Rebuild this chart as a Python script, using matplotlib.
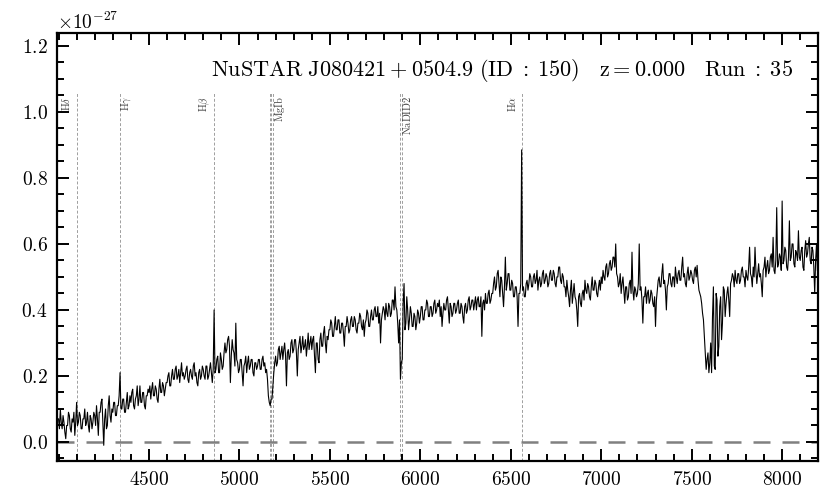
import numpy as np
import matplotlib
matplotlib.use("Agg")
import matplotlib.pyplot as plt

plt.rcParams.update({
    "font.family": "serif",
    "font.serif": ["cmr10", "DejaVu Serif"],
    "mathtext.fontset": "cm",
    "axes.formatter.use_mathtext": True,
    "font.size": 14,
    "axes.unicode_minus": True,
})

SCALE = 1e-27

# wavelength sampling (Angstrom): first sample and step
wave_start, wave_step = 4000, 5

# flux in units of 1e-27, one row per 100 A (20 samples each)
flux_rows = [
    [0.07, 0.04, 0.10, 0.06, 0.04, 0.08, 0.06, 0.03, 0.01, 0.05, 0.05, 0.09, 0.08, 0.04, 0.03, 0.07, 0.06, 0.09, 0.02, 0.06],  # 4000
    [0.12, 0.05, 0.06, 0.09, 0.08, 0.04, 0.04, 0.07, 0.07, 0.10, 0.05, 0.06, 0.09, 0.05, 0.03, 0.08, 0.07, 0.04, 0.06, 0.09],  # 4100
    [0.08, 0.05, 0.11, 0.07, 0.02, 0.09, 0.09, 0.12, 0.13, 0.06, -0.01, 0.07, 0.10, 0.04, 0.05, 0.11, 0.14, 0.08, 0.06, 0.10],  # 4200
    [0.09, 0.12, 0.12, 0.08, 0.08, 0.11, 0.11, 0.14, 0.21, 0.10, 0.10, 0.13, 0.13, 0.09, 0.09, 0.12, 0.15, 0.10, 0.11, 0.14],  # 4300
    [0.12, 0.15, 0.16, 0.11, 0.10, 0.13, 0.14, 0.17, 0.11, 0.13, 0.17, 0.12, 0.12, 0.15, 0.15, 0.11, 0.10, 0.14, 0.14, 0.16],  # 4400
    [0.15, 0.17, 0.13, 0.16, 0.18, 0.14, 0.14, 0.17, 0.16, 0.13, 0.12, 0.16, 0.19, 0.15, 0.15, 0.18, 0.17, 0.14, 0.16, 0.18],  # 4500
    [0.18, 0.20, 0.21, 0.17, 0.17, 0.20, 0.22, 0.19, 0.19, 0.22, 0.23, 0.19, 0.20, 0.22, 0.18, 0.21, 0.24, 0.20, 0.21, 0.19],  # 4600
    [0.20, 0.22, 0.23, 0.19, 0.18, 0.21, 0.22, 0.20, 0.19, 0.23, 0.24, 0.20, 0.21, 0.18, 0.17, 0.21, 0.22, 0.19, 0.20, 0.23],  # 4700
    [0.22, 0.20, 0.19, 0.23, 0.23, 0.19, 0.20, 0.22, 0.24, 0.21, 0.18, 0.22, 0.40, 0.21, 0.22, 0.25, 0.26, 0.21, 0.21, 0.27],  # 4800
    [0.25, 0.22, 0.23, 0.27, 0.30, 0.27, 0.28, 0.31, 0.32, 0.29, 0.18, 0.26, 0.31, 0.28, 0.27, 0.23, 0.36, 0.25, 0.24, 0.21],  # 4900
    [0.22, 0.25, 0.25, 0.21, 0.17, 0.23, 0.24, 0.26, 0.21, 0.24, 0.26, 0.22, 0.23, 0.25, 0.25, 0.21, 0.20, 0.24, 0.24, 0.22],  # 5000
    [0.23, 0.25, 0.25, 0.22, 0.22, 0.25, 0.26, 0.23, 0.24, 0.21, 0.22, 0.19, 0.14, 0.12, 0.11, 0.13, 0.13, 0.17, 0.21, 0.24],  # 5100
    [0.26, 0.23, 0.24, 0.28, 0.29, 0.25, 0.27, 0.29, 0.25, 0.28, 0.30, 0.26, 0.17, 0.27, 0.28, 0.25, 0.26, 0.30, 0.31, 0.27],  # 5200
    [0.28, 0.31, 0.31, 0.27, 0.20, 0.28, 0.30, 0.32, 0.27, 0.29, 0.32, 0.28, 0.29, 0.31, 0.26, 0.29, 0.33, 0.28, 0.30, 0.32],  # 5300
    [0.28, 0.31, 0.32, 0.26, 0.21, 0.30, 0.30, 0.25, 0.24, 0.31, 0.33, 0.29, 0.29, 0.33, 0.35, 0.30, 0.27, 0.32, 0.31, 0.34],  # 5400
    [0.34, 0.37, 0.36, 0.32, 0.32, 0.35, 0.38, 0.34, 0.34, 0.37, 0.37, 0.33, 0.33, 0.36, 0.36, 0.33, 0.29, 0.35, 0.35, 0.38],  # 5500
    [0.36, 0.33, 0.34, 0.37, 0.38, 0.35, 0.35, 0.38, 0.37, 0.34, 0.33, 0.36, 0.36, 0.39, 0.38, 0.35, 0.34, 0.37, 0.32, 0.36],  # 5600
    [0.37, 0.40, 0.39, 0.35, 0.35, 0.38, 0.40, 0.37, 0.37, 0.40, 0.41, 0.38, 0.38, 0.41, 0.36, 0.39, 0.30, 0.37, 0.39, 0.41],  # 5700
    [0.40, 0.37, 0.42, 0.39, 0.38, 0.42, 0.41, 0.38, 0.39, 0.43, 0.43, 0.40, 0.47, 0.41, 0.40, 0.36, 0.30, 0.37, 0.19, 0.24],  # 5800
    [0.25, 0.42, 0.48, 0.34, 0.36, 0.44, 0.40, 0.34, 0.37, 0.41, 0.39, 0.35, 0.35, 0.39, 0.38, 0.34, 0.36, 0.40, 0.39, 0.36],  # 5900
    [0.38, 0.41, 0.41, 0.37, 0.37, 0.40, 0.40, 0.43, 0.42, 0.38, 0.38, 0.41, 0.41, 0.38, 0.39, 0.42, 0.43, 0.39, 0.40, 0.42],  # 6000
    [0.41, 0.43, 0.38, 0.41, 0.35, 0.39, 0.42, 0.40, 0.40, 0.43, 0.44, 0.40, 0.36, 0.42, 0.41, 0.38, 0.39, 0.42, 0.42, 0.39],  # 6100
    [0.40, 0.42, 0.43, 0.39, 0.39, 0.42, 0.41, 0.38, 0.36, 0.41, 0.42, 0.39, 0.40, 0.43, 0.44, 0.40, 0.41, 0.43, 0.43, 0.40],  # 6200
    [0.42, 0.44, 0.40, 0.43, 0.44, 0.41, 0.41, 0.44, 0.32, 0.42, 0.43, 0.40, 0.45, 0.42, 0.42, 0.45, 0.46, 0.42, 0.43, 0.45],  # 6300
    [0.45, 0.48, 0.50, 0.46, 0.47, 0.51, 0.52, 0.48, 0.44, 0.50, 0.49, 0.45, 0.41, 0.47, 0.56, 0.46, 0.48, 0.51, 0.51, 0.46],  # 6400
    [0.46, 0.49, 0.48, 0.44, 0.44, 0.47, 0.47, 0.44, 0.35, 0.45, 0.45, 0.48, 0.885, 0.46, 0.47, 0.44, 0.44, 0.48, 0.49, 0.46],  # 6500
    [0.48, 0.51, 0.50, 0.47, 0.47, 0.50, 0.51, 0.48, 0.49, 0.52, 0.46, 0.49, 0.50, 0.47, 0.48, 0.51, 0.52, 0.48, 0.49, 0.51],  # 6600
    [0.50, 0.47, 0.48, 0.51, 0.52, 0.49, 0.49, 0.52, 0.51, 0.48, 0.47, 0.50, 0.50, 0.53, 0.53, 0.49, 0.48, 0.51, 0.50, 0.47],  # 6700
    [0.47, 0.44, 0.49, 0.46, 0.44, 0.41, 0.46, 0.49, 0.42, 0.45, 0.48, 0.44, 0.43, 0.40, 0.35, 0.44, 0.45, 0.42, 0.41, 0.45],  # 6800
    [0.46, 0.43, 0.49, 0.46, 0.45, 0.48, 0.47, 0.44, 0.43, 0.47, 0.50, 0.46, 0.46, 0.49, 0.48, 0.45, 0.44, 0.47, 0.49, 0.46],  # 6900
    [0.50, 0.48, 0.52, 0.50, 0.49, 0.53, 0.54, 0.50, 0.51, 0.54, 0.55, 0.52, 0.53, 0.56, 0.56, 0.53, 0.60, 0.51, 0.50, 0.47],  # 7000
    [0.48, 0.51, 0.45, 0.48, 0.50, 0.46, 0.42, 0.47, 0.47, 0.43, 0.44, 0.48, 0.49, 0.45, 0.575, 0.46, 0.43, 0.47, 0.46, 0.44],  # 7100
    [0.45, 0.48, 0.60, 0.46, 0.47, 0.43, 0.36, 0.44, 0.44, 0.47, 0.42, 0.45, 0.46, 0.42, 0.43, 0.46, 0.45, 0.42, 0.41, 0.44],  # 7200
    [0.35, 0.43, 0.46, 0.49, 0.50, 0.47, 0.47, 0.51, 0.54, 0.48, 0.49, 0.46, 0.40, 0.47, 0.48, 0.51, 0.51, 0.48, 0.47, 0.50],  # 7300
    [0.50, 0.47, 0.53, 0.50, 0.48, 0.51, 0.52, 0.49, 0.49, 0.53, 0.56, 0.50, 0.51, 0.48, 0.47, 0.51, 0.53, 0.49, 0.50, 0.52],  # 7400
    [0.51, 0.49, 0.48, 0.52, 0.53, 0.50, 0.535, 0.49, 0.46, 0.45, 0.44, 0.42, 0.39, 0.37, 0.32, 0.27, 0.22, 0.25, 0.27, 0.21],  # 7500
    [0.24, 0.30, 0.21, 0.38, 0.47, 0.23, 0.22, 0.45, 0.43, 0.26, 0.29, 0.41, 0.44, 0.31, 0.36, 0.47, 0.46, 0.38, 0.42, 0.45],  # 7600
    [0.47, 0.43, 0.38, 0.48, 0.49, 0.51, 0.50, 0.47, 0.52, 0.49, 0.48, 0.51, 0.51, 0.48, 0.49, 0.52, 0.53, 0.50, 0.50, 0.47],  # 7700
    [0.52, 0.50, 0.49, 0.53, 0.59, 0.51, 0.50, 0.47, 0.53, 0.50, 0.59, 0.52, 0.48, 0.51, 0.54, 0.50, 0.51, 0.48, 0.44, 0.52],  # 7800
    [0.53, 0.56, 0.50, 0.53, 0.55, 0.51, 0.52, 0.56, 0.57, 0.53, 0.62, 0.52, 0.51, 0.55, 0.71, 0.53, 0.54, 0.57, 0.56, 0.52],  # 7900
    [0.73, 0.54, 0.55, 0.59, 0.58, 0.53, 0.52, 0.56, 0.67, 0.55, 0.56, 0.60, 0.60, 0.54, 0.53, 0.58, 0.57, 0.55, 0.64, 0.56],  # 8000
    [0.55, 0.58, 0.59, 0.53, 0.52, 0.58, 0.61, 0.56, 0.57, 0.60, 0.62, 0.55, 0.54, 0.59, 0.58, 0.53, 0.45, 0.55, 0.60, 0.52],  # 8100
]

line_names = [r"$\rm H\delta$", r"$\rm H\gamma$", r"$\rm H\beta$", r"$\rm MgIb$",
              r"$\rm NaDID2$", r"$\rm H\alpha$"]
line_waves = [[4102], [4341], [4861], [5167, 5173, 5184], [5890, 5896], [6563]]
label_waves = [4041, 4372, 4808, 5222, 5926, 6504]

title = r"$\rm NuSTAR\ J080421+0504.9\ (ID\;:\;150)\quad z=0.000\quad Run\;:\;35$"

xticks = [4500, 5000, 5500, 6000, 6500, 7000, 7500, 8000]
yticks = [0.0, 0.2, 0.4, 0.6, 0.8, 1.0, 1.2]

flux = np.concatenate([np.array(r, dtype=float) for r in flux_rows]) * SCALE
wave = wave_start + wave_step * np.arange(flux.size)

fig = plt.figure(figsize=(8.3, 4.98), dpi=100)
ax = fig.add_axes([0.0692, 0.0743, 0.9163, 0.8594])

ymin, ymax = -0.0576, 1.239
ax.set_xlim(3994, 8198)
ax.set_ylim(ymin * SCALE, ymax * SCALE)

# line markers
for name, ws, lw_ in zip(line_names, line_waves, label_waves):
    for w in ws:
        ax.vlines(w, ymin * SCALE, 1.06 * SCALE, colors="0.62", linestyles=(0, (3, 2)),
                  linewidth=0.7, zorder=1)
    ax.text(lw_, 1.048 * SCALE, name, rotation=90, ha="center", va="top",
            fontsize=7.5, color="0.25")

# zero line
ax.axhline(0, color="0.5", lw=1.8, linestyle=(0, (6.8, 4.8)), zorder=1)

# spectrum
ax.plot(wave, flux, color="black", lw=0.8, zorder=2)

ax.text(0.967, 0.913, title, transform=ax.transAxes, ha="right", va="center",
        fontsize=16)

ax.set_xticks(xticks)
ax.set_yticks(np.array(yticks) * SCALE)
ax.set_xticks(np.arange(4000, 8200, 100), minor=True)
ax.set_yticks(np.arange(-0.05, 1.24, 0.05) * SCALE, minor=True)

ax.tick_params(which="both", direction="in", top=True, right=True, width=1.4)
ax.tick_params(which="major", length=8.5, labelsize=14, pad=7)
ax.tick_params(which="minor", length=4.8)
for s in ax.spines.values():
    s.set_linewidth(1.6)

ax.yaxis.get_offset_text().set_fontsize(14)

fig.savefig("out.png", dpi=100)
